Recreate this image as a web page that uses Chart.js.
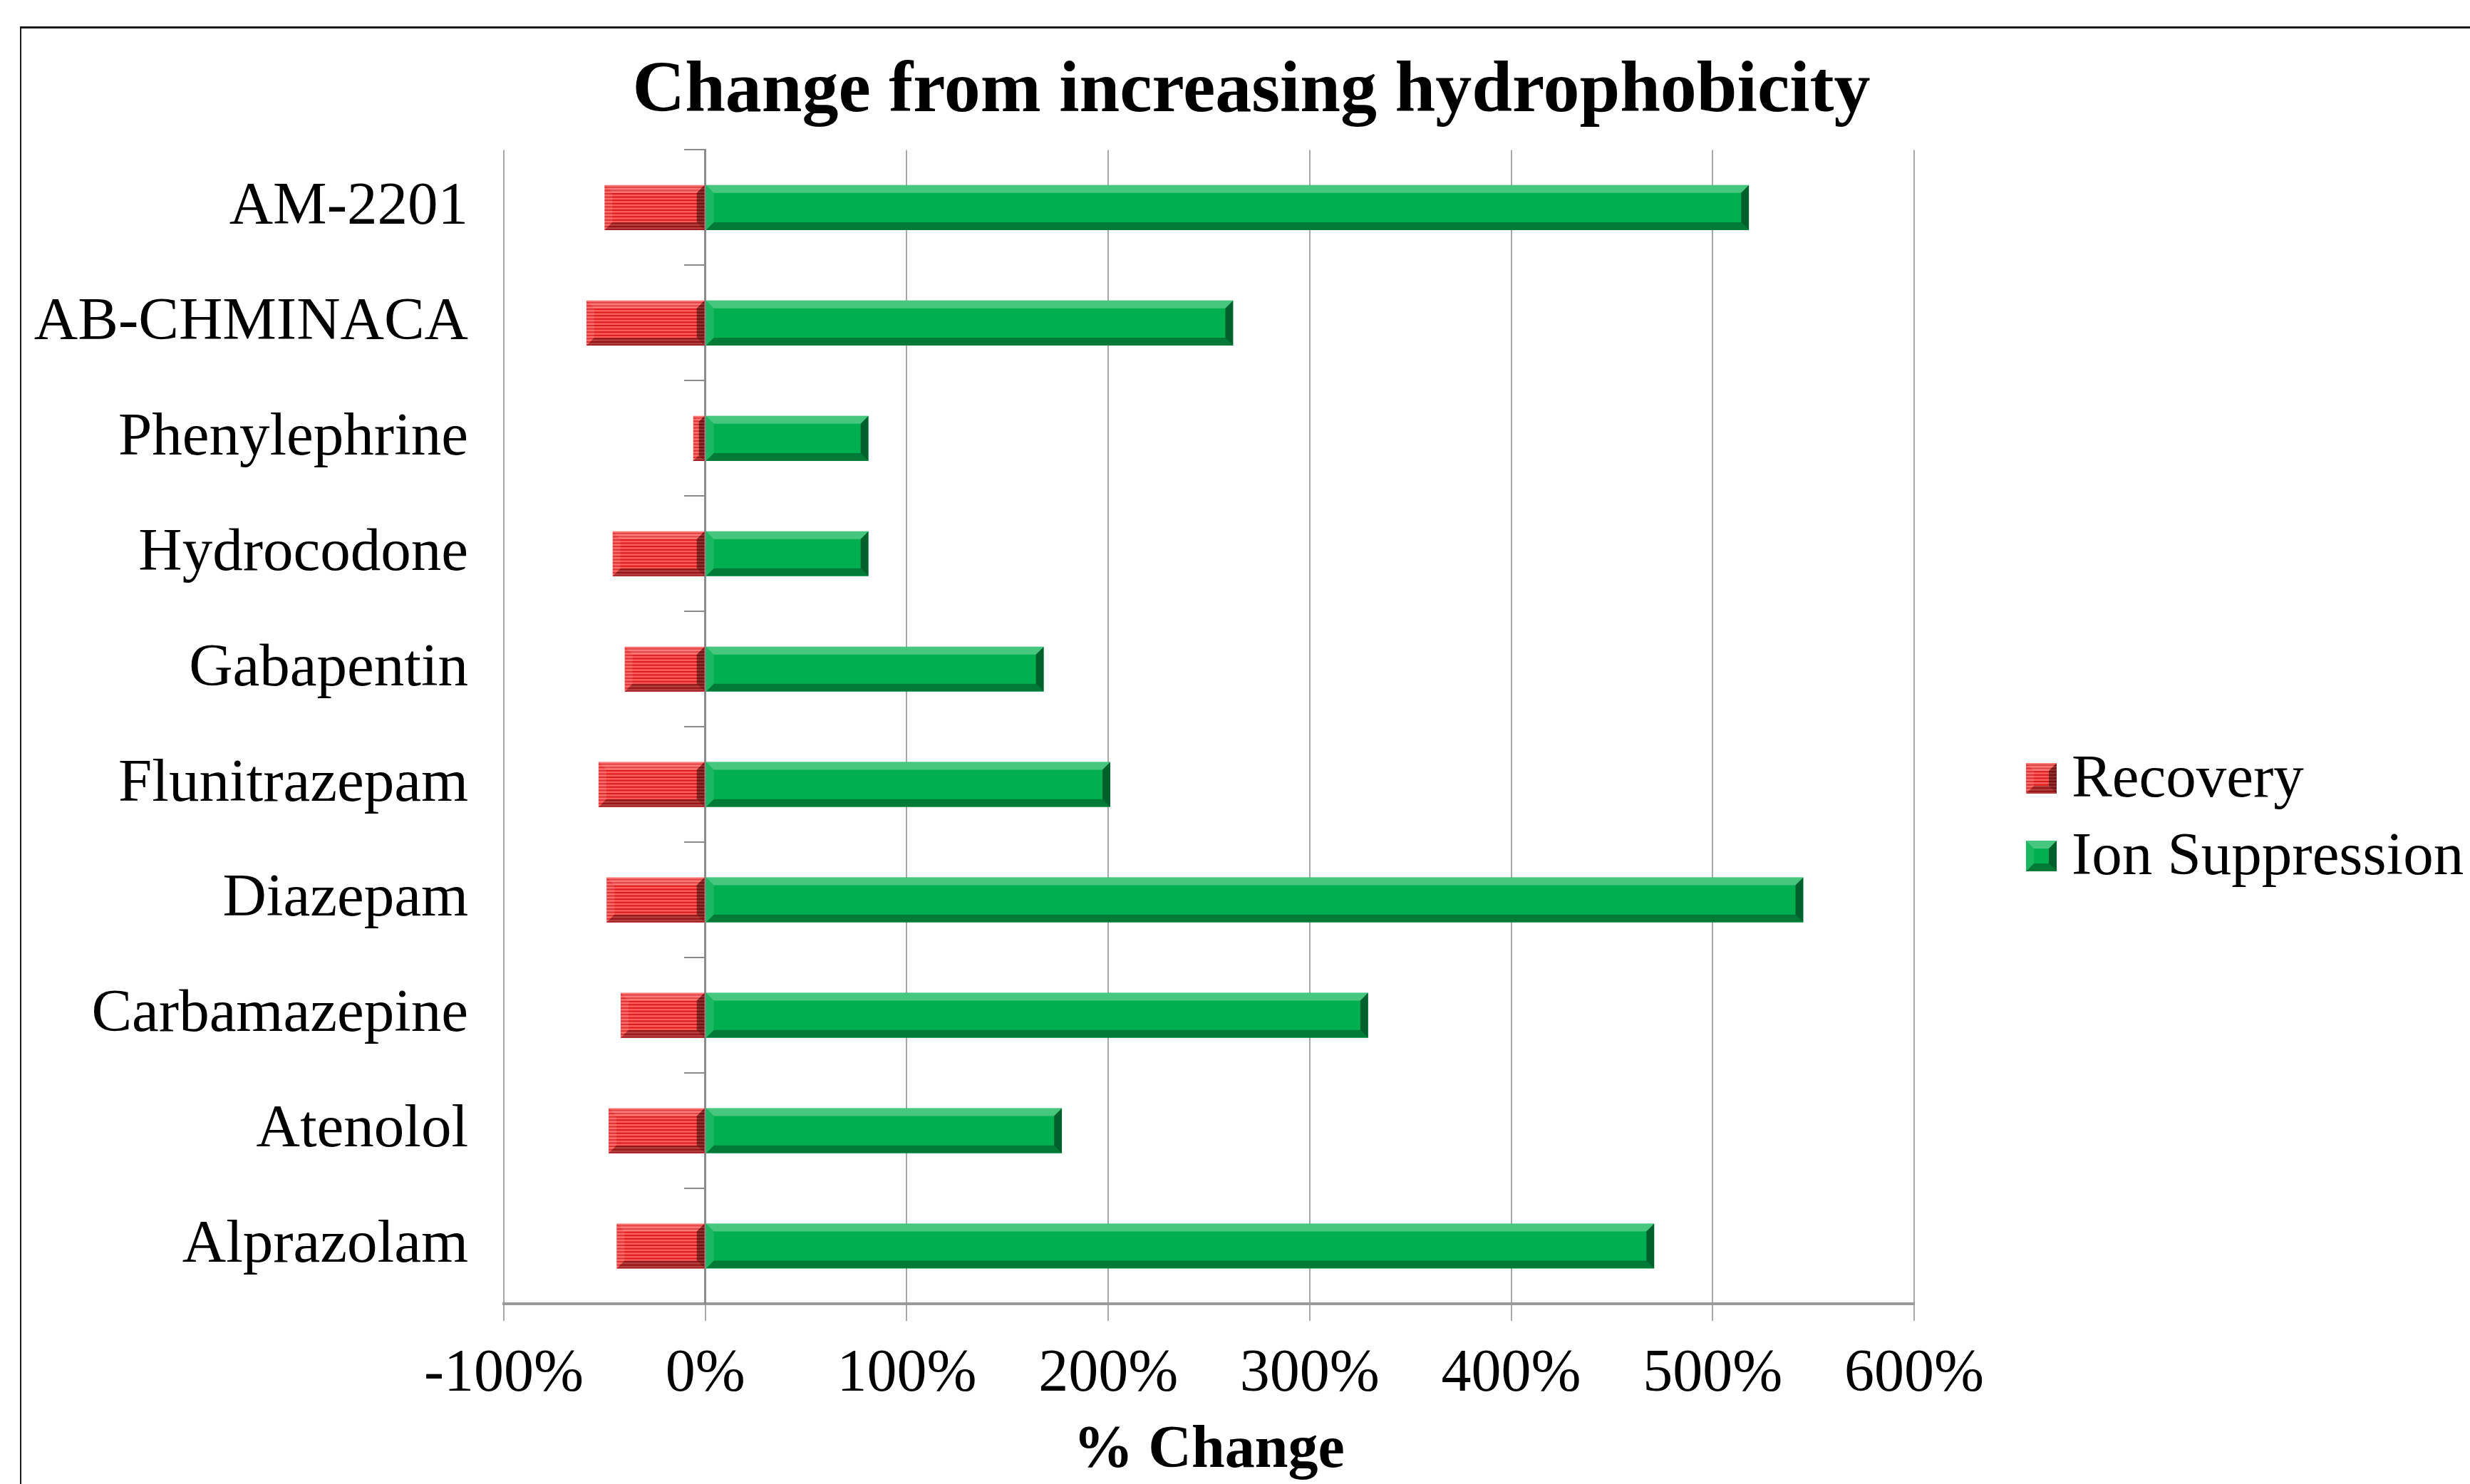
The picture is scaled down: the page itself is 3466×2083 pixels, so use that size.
<!DOCTYPE html>
<html>
<head>
<meta charset="utf-8">
<title>Change from increasing hydrophobicity</title>
<script src="https://cdn.jsdelivr.net/npm/chart.js@4.4.1/dist/chart.umd.min.js"></script>
<style>
  html, body { margin: 0; padding: 0; background: #fff; }
  #wrap { position: relative; width: 3466px; height: 2083px; overflow: hidden; }
  #frame { position: absolute; left: 28px; top: 37px; right: -10px; bottom: -10px;
           border-top: 3px solid #1a1a1a; border-left: 2px solid #1a1a1a; pointer-events: none; }
</style>
</head>
<body>
<div id="wrap">
  <canvas id="hydroChart" width="3466" height="2083"></canvas>
  <div id="frame"></div>
</div>
<script>
const compounds = ['AM-2201', 'AB-CHMINACA', 'Phenylephrine', 'Hydrocodone', 'Gabapentin',
                   'Flunitrazepam', 'Diazepam', 'Carbamazepine', 'Atenolol', 'Alprazolam'];
const recovery = [-50, -59, -6, -46, -40, -53, -49, -42, -48, -44];
const ionSuppression = [518, 262, 81, 81, 168, 201, 545, 329, 177, 471];
const xTicks = [-100, 0, 100, 200, 300, 400, 500, 600];

const serif = "'Liberation Serif', 'Times New Roman', serif";

function face(ctx, pts, color) {
    ctx.beginPath();
    ctx.moveTo(pts[0][0], pts[0][1]);
    for (let i = 1; i < pts.length; i++) ctx.lineTo(pts[i][0], pts[i][1]);
    ctx.closePath();
    ctx.fillStyle = color;
    ctx.fill();
}

// raised "3-D" look: light top/left edges, dark bottom/right edges, stripes on red
function bevelBar(ctx, l, t, r, b, striped) {
    const w = r - l, h = b - t;
    if (w <= 0 || h <= 0) return;
    const e = Math.min(11, w / 2, h / 2);
    ctx.save();
    ctx.beginPath();
    ctx.rect(l, t, w, h);
    ctx.clip();
    if (striped) {
        ctx.fillStyle = 'rgba(200, 0, 0, 0.7)';
        for (let yy = t + 2; yy < b; yy += 4.6) ctx.fillRect(l, yy, w, 2);
    }
    face(ctx, [[l, t], [r, t], [r - e, t + e], [l + e, t + e]], striped ? 'rgba(255,255,255,0.18)' : 'rgba(255,255,255,0.28)');
    face(ctx, [[l, b], [r, b], [r - e, b - e], [l + e, b - e]], 'rgba(0,0,0,0.30)');
    face(ctx, [[l, t], [l + e, t + e], [l + e, b - e], [l, b]], 'rgba(255,255,255,0.10)');
    face(ctx, [[r, t], [r - e, t + e], [r - e, b - e], [r, b]], 'rgba(0,0,0,0.45)');
    ctx.restore();
}

const bevelPlugin = {
    id: 'bevel',
    afterLayout(chart) {
        // centre the title over the whole framed figure
        const tb = chart.titleBlock;
        const half = (tb.right - tb.left) / 2;
        tb.left = 1756 - half;
        tb.right = 1756 + half;
    },
    afterDatasetsDraw(chart) {
        const ctx = chart.ctx;
        chart.data.datasets.forEach((ds, i) => {
            chart.getDatasetMeta(i).data.forEach(bar => {
                const p = bar.getProps(['x', 'y', 'base', 'height'], true);
                bevelBar(ctx, Math.min(p.x, p.base), p.y - p.height / 2,
                         Math.max(p.x, p.base), p.y + p.height / 2, ds.striped);
            });
        });
    },
    afterDraw(chart) {
        // legend to the right of the plot
        const ctx = chart.ctx;
        ctx.save();
        chart.data.datasets.forEach((ds, i) => {
            const sx = 2843, sy = 1071 + i * 109, sz = 43;
            ctx.fillStyle = ds.backgroundColor;
            ctx.fillRect(sx, sy, sz, sz);
            bevelBar(ctx, sx, sy, sx + sz, sy + sz, ds.striped);
            ctx.fillStyle = '#000';
            ctx.font = '85px ' + serif;
            ctx.textBaseline = 'alphabetic';
            ctx.textAlign = 'left';
            ctx.fillText(ds.label, 2907, sy + sz + 4);
        });
        ctx.restore();
    }
};

new Chart(document.getElementById('hydroChart'), {
    type: 'bar',
    data: {
        labels: compounds,
        datasets: [
            { label: 'Recovery', data: recovery, backgroundColor: '#ff5c5c', striped: true },
            { label: 'Ion Suppression', data: ionSuppression, backgroundColor: '#00b050', striped: false }
        ]
    },
    options: {
        indexAxis: 'y',
        responsive: false,
        animation: false,
        devicePixelRatio: 1,
        categoryPercentage: 1,
        barPercentage: 0.39,
        borderWidth: 0,
        layout: { padding: { left: 0, right: 780, top: 0, bottom: 0 } },
        plugins: {
            legend: { display: false },
            tooltip: { enabled: false },
            title: {
                display: true,
                text: 'Change from increasing hydrophobicity',
                color: '#000',
                font: { family: serif, size: 102, weight: 'bold', lineHeight: 1.2 },
                padding: { top: 68, bottom: 20 }
            }
        },
        scales: {
            x: {
                stacked: true,
                min: -100,
                max: 600,
                afterBuildTicks: s => { s.ticks = xTicks.map(v => ({ value: v })); },
                afterFit: s => { s.height = 253; },
                grid: { color: '#a8a8a8', lineWidth: 2, tickLength: 24 },
                border: { display: true, color: '#9a9a9a', width: 4 },
                ticks: {
                    color: '#000',
                    padding: 26,
                    font: { family: serif, size: 84 },
                    callback: v => v + '%'
                },
                title: {
                    display: true,
                    text: '% Change',
                    color: '#000',
                    font: { family: serif, size: 84, weight: 'bold', lineHeight: 1.1 },
                    padding: { top: 0, bottom: 0 }
                }
            },
            y: {
                stacked: true,
                afterFit: s => { s.width = 707; },
                grid: { display: false, drawTicks: false },
                border: { display: false },
                ticks: {
                    color: '#000',
                    padding: 50,
                    font: { family: serif, size: 85 }
                }
            },
            yAxisAtZero: {
                type: 'category',
                axis: 'y',
                labels: compounds,
                position: { x: 0 },
                offset: true,
                grid: { offset: true, drawOnChartArea: false, tickLength: 28, color: '#8c8c8c', lineWidth: 2 },
                border: { display: true, color: '#8c8c8c', width: 3 },
                ticks: { display: false }
            }
        }
    },
    plugins: [bevelPlugin]
});
</script>
</body>
</html>
